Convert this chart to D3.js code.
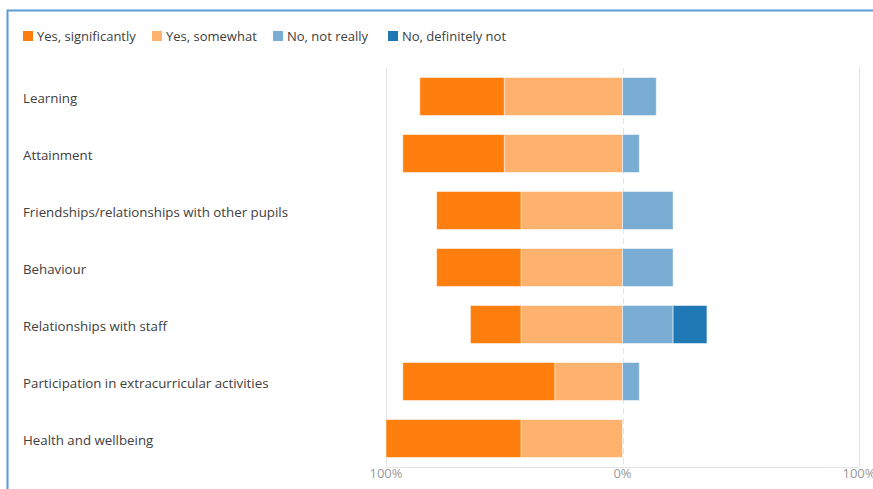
<!DOCTYPE html>
<html>
<head>
<meta charset="utf-8">
<script src="https://cdn.jsdelivr.net/npm/d3@7"></script>
<style>
body { margin: 0; background: #fff; overflow: hidden; }
text { font-family: "Open Sans", "Noto Sans", sans-serif; }
</style>
</head>
<body>
<script>
var width = 873;
var height = 489;

// data, percent of responses
var categories = ["Learning", "Attainment", "Friendships/relationships with other pupils", "Behaviour",
    "Relationships with staff", "Participation in extracurricular activities", "Health and wellbeing"];
var seriesNames = ["Yes, significantly", "Yes, somewhat", "No, not really", "No, definitely not"];
var yesSignificantly = [35.7, 42.9, 35.7, 35.7, 21.4, 64.3, 57.1];
var yesSomewhat = [50.0, 50.0, 42.9, 42.9, 42.9, 28.6, 42.9];
var noNotReally = [14.3, 7.1, 21.4, 21.4, 21.4, 7.1, 0];
var noDefinitelyNot = [0, 0, 0, 0, 14.3, 0, 0];
var tickValues = [-100, 0, 100];
var tickLabels = ["100%", "0%", "100%"];

var colors = ["#ff7f0e", "#ffb26e", "#7aadd3", "#1f77b4"];

var svg = d3.select("body").append("svg")
    .attr("width", width)
    .attr("height", height);

// frame
svg.append("path")
    .attr("d", "M7.5," + height + " V10.5 H" + width)
    .attr("fill", "none")
    .attr("stroke", "#5b9bd5")
    .attr("stroke-width", 2);

var x = d3.scaleLinear().domain([-100, 100]).range([386, 859]);
var y = d3.scaleBand().domain(categories).range([68, 467])
    .paddingInner(1 / 3).paddingOuter(1 / 6);

// grid
tickValues.forEach(function(t) {
    svg.append("line")
        .attr("x1", Math.round(x(t)) + 0.5).attr("x2", Math.round(x(t)) + 0.5)
        .attr("y1", 68).attr("y2", 467)
        .attr("stroke", "#e4e4e4")
        .attr("stroke-width", 1)
        .attr("stroke-dasharray", t == 0 ? "6,4" : null);
});
svg.append("line")
    .attr("x1", x(-100)).attr("x2", x(100))
    .attr("y1", 467.5).attr("y2", 467.5)
    .attr("stroke", "#e4e4e4");

// stacked segments: yes to the left of 0, no to the right
var rows = [];
categories.forEach(function(c, i) {
    var left = 0;
    [yesSomewhat[i], yesSignificantly[i]].forEach(function(v, k) {
        rows.push({cat: c, x0: -(left + v), x1: -left, s: k == 0 ? 1 : 0});
        left += v;
    });
    var right = 0;
    [noNotReally[i], noDefinitelyNot[i]].forEach(function(v, k) {
        rows.push({cat: c, x0: right, x1: right + v, s: k + 2});
        right += v;
    });
});

svg.append("g").selectAll("rect")
    .data(rows.filter(function(d) { return d.x1 > d.x0; }))
    .enter().append("rect")
    .attr("x", function(d) { return x(d.x0); })
    .attr("width", function(d) { return x(d.x1) - x(d.x0); })
    .attr("y", function(d) { return y(d.cat); })
    .attr("height", y.bandwidth())
    .attr("fill", function(d) { return colors[d.s]; })
    .attr("stroke", "rgba(255,255,255,0.5)")
    .attr("stroke-width", 1);

// category labels
svg.append("g").selectAll("text")
    .data(categories)
    .enter().append("text")
    .attr("x", 23)
    .attr("y", function(d) { return y(d) + y.bandwidth() / 2 + 1.5; })
    .attr("dy", "0.35em")
    .attr("font-size", 13.3)
    .attr("fill", "#404040")
    .text(function(d) { return d; });

// tick labels
svg.append("g").selectAll("text")
    .data(tickValues)
    .enter().append("text")
    .attr("x", function(d) { return x(d); })
    .attr("y", 478)
    .attr("text-anchor", "middle")
    .attr("font-size", 13)
    .attr("fill", "#999")
    .text(function(d, i) { return tickLabels[i]; });

// legend
var legendX = [23, 152, 273, 388];
var legend = svg.append("g").selectAll("g")
    .data(seriesNames)
    .enter().append("g")
    .attr("transform", function(d, i) { return "translate(" + legendX[i] + ",36)"; });
legend.append("rect")
    .attr("x", 0).attr("y", -5)
    .attr("width", 10).attr("height", 10)
    .attr("fill", function(d, i) { return colors[i]; });
legend.append("text")
    .attr("x", 14)
    .attr("dy", "0.35em")
    .attr("font-size", 13)
    .attr("fill", "#404040")
    .text(function(d) { return d; });
</script>
</body>
</html>
